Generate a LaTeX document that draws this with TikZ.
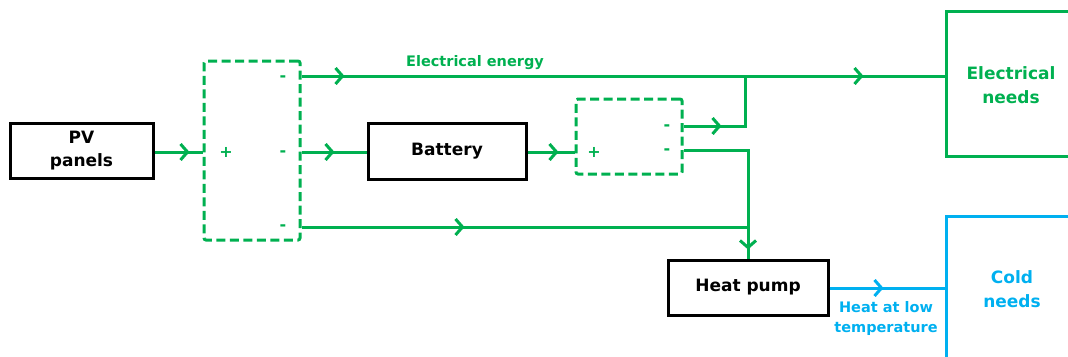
\documentclass[tikz,border=0pt]{standalone}
\usepackage{fontspec}
\setmainfont{DejaVu Sans}
\usetikzlibrary{arrows.meta,decorations.markings}
\definecolor{egreen}{RGB}{0,176,80}
\definecolor{cblue}{RGB}{0,176,240}
\tikzset{
 blk/.style={draw=black, line width=3pt, fill=white, font=\bfseries\fontsize{17}{23}\selectfont, align=center, inner sep=0pt},
 conv/.style={draw=egreen, line width=3pt, dash pattern=on 9pt off 4.5pt, rounded corners=2pt, inner sep=0pt},
 needbox/.style={line width=3pt, inner sep=0pt},
 needtxt/.style={font=\bfseries\fontsize{17}{24}\selectfont, align=center, inner sep=0pt},
 pm/.style={text=egreen, font=\bfseries\fontsize{16}{18}\selectfont, inner sep=0pt},
 wire/.style={draw=egreen, line width=3pt},
 cwire/.style={draw=cblue, line width=3pt},
 tipat/.style={postaction={decorate, decoration={markings, mark=at position #1 with {\arrow[line width=3pt]{Straight Barb[length=7pt,width=16pt,line width=3pt]}}}}},
}
\begin{document}
\begin{tikzpicture}[x=1pt,y=-1pt]
\useasboundingbox (0,0) rectangle (1068,356);
\clip (0,0) rectangle (1068,356);
\coordinate (r76) at (0,76);
\coordinate (r126) at (0,126);
\coordinate (r150) at (0,150);
\coordinate (r152) at (0,152);
\coordinate (r227) at (0,227);
\coordinate (r288) at (0,288);
\coordinate (j1) at (745,76);

\node[blk, minimum width=143pt, minimum height=55pt] (pv) at (81.5,150.5) {PV\\panels};
\node[conv, minimum width=96pt, minimum height=179pt] (c1) at (252,150.5) {};
\node[pm] (c1p) at (226,152) {+};
\node[pm] (c1m1) at (283,79) {-};
\node[pm] (c1m2) at (283,154) {-};
\node[pm] (c1m3) at (283,228) {-};
\node[blk, minimum width=158pt, minimum height=56pt] (bat) at (447,151) {Battery};
\node[conv, minimum width=106pt, minimum height=75pt] (c2) at (629,136.5) {};
\node[pm] (c2p) at (594,152) {+};
\node[pm] (c2m1) at (667,128) {-};
\node[pm] (c2m2) at (667,152) {-};
\node[blk, minimum width=160pt, minimum height=55pt] (hp) at (748,287.5) {Heat pump};
\node[draw=egreen, needbox, minimum width=160pt, minimum height=145pt] (elec) at (1026,83.5) {};
\node[draw=cblue, needbox, minimum width=160pt, minimum height=170pt] (cold) at (1026,301) {};
\node[needtxt, text=egreen] (elect) at (1011,85) {Electrical\\needs};
\node[needtxt, text=cblue] (coldt) at (1012,289) {Cold\\needs};
\node[text=egreen, font=\bfseries\fontsize{14.5}{17}\selectfont, inner sep=0pt] (ee) at (475,63) {Electrical energy};
\node[text=cblue, font=\bfseries\fontsize{14.5}{20}\selectfont, align=center, inner sep=0pt] (hl) at (886,318) {Heat at low\\temperature};

\draw[wire, tipat=35pt] (pv.east |- r152) -- (c1.west |- r152);
\draw[wire, tipat=43pt, tipat=562pt] (c1.east |- r76) -- (elec.west |- r76);
\draw[wire, tipat=33pt] (c1.east |- r152) -- (bat.west |- r152);
\draw[wire, tipat=31pt] (bat.east |- r152) -- (c2.west |- r152);
\draw[wire, tipat=38pt] (c2.east |- r126) -| (j1);
\draw[wire, tipat=164pt] (c2.east |- r150) -| (hp.north);
\draw[wire, tipat=163pt] (c1.east |- r227) -- (hp.north |- r227);
\draw[cwire, tipat=54pt] (hp.east |- r288) -- (cold.west |- r288);
\end{tikzpicture}
\end{document}
